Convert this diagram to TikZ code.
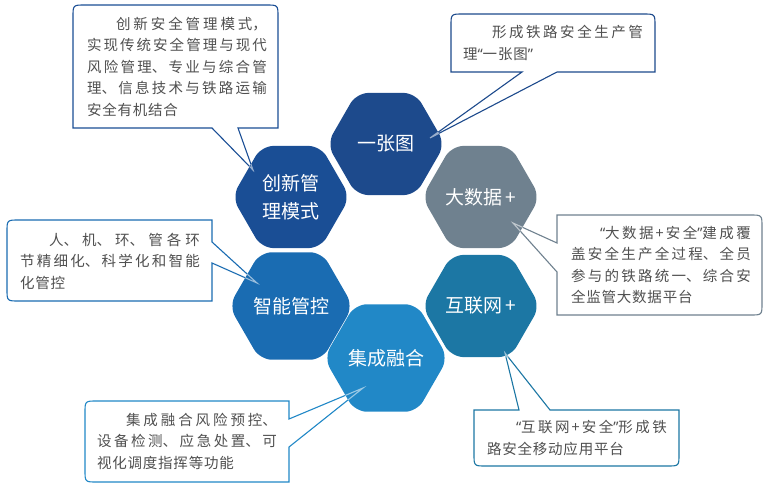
\documentclass[tikz,border=0pt]{standalone}
\usepackage{fontspec}
\usetikzlibrary{shapes.geometric}
\newfontfamily\cjk{Noto Sans CJK SC}
\newfontfamily\latinf{Noto Sans}
\XeTeXlinebreaklocale "zh"
\XeTeXlinebreakskip=0.8pt plus 3pt
\newcommand\oquote{{\latinf “}}
\newcommand\cquote{{\latinf ”}}
\definecolor{cA}{HTML}{1D4A8C}
\definecolor{cB}{HTML}{1A4E95}
\definecolor{cC}{HTML}{6F818F}
\definecolor{cD}{HTML}{1C77A4}
\definecolor{cE}{HTML}{1A6CB2}
\definecolor{cF}{HTML}{2188C7}
\definecolor{txtgray}{HTML}{505050}
\tikzset{
  hexa/.style={regular polygon, regular polygon sides=6, minimum size=118pt,
    inner sep=0pt, rounded corners=12pt, text=white, align=center,
    font=\cjk\fontsize{19}{28}\selectfont},
  txt/.style={text width=180pt, align=justify, inner sep=0pt, text=txtgray,
    font=\cjk\fontsize{14.5}{21.5}\selectfont},
  bubble/.style={line width=1.1pt, line join=miter},
  glint/.style={line width=1.1pt, white, opacity=0.55},
}
\newcommand\bubA{(73,128) -- (73,17) .. controls (73,5) .. (85,5) -- (266,5) .. controls (278,5) .. (278,17) -- (278,128) -- (238,128) -- (tA) -- (212,128) -- cycle}
\newcommand\bubB{(451,72) -- (451,26) .. controls (451,14) .. (463,14) -- (643,14) .. controls (655,14) .. (655,26) -- (655,72) -- (557,72) -- (tB) -- (522,72) -- cycle}
\newcommand\bubC{(557,215) -- (750,215) .. controls (762,215) .. (762,227) -- (762,303) .. controls (762,315) .. (750,315) -- (557,315) -- (557,272) -- (tC) -- (557,243) -- cycle}
\newcommand\bubD{(474,410) -- (519,410) -- (tD) -- (550,410) -- (679,410) -- (679,454) .. controls (679,466) .. (667,466) -- (486,466) .. controls (474,466) .. (474,454) -- cycle}
\newcommand\bubE{(212,220) -- (212,242) -- (tE) -- (212,263) -- (212,301) -- (19,301) .. controls (7,301) .. (7,289) -- (7,232) .. controls (7,220) .. (19,220) -- cycle}
\newcommand\bubF{(289,401) -- (289,419) -- (tF) -- (289,447) -- (289,482) -- (97,482) .. controls (85,482) .. (85,470) -- (85,413) .. controls (85,401) .. (97,401) -- cycle}
\newcommand\hexclip[1]{\clip (#1.corner 1) -- (#1.corner 2) -- (#1.corner 3) -- (#1.corner 4) -- (#1.corner 5) -- (#1.corner 6) -- cycle;}
\begin{document}
\begin{tikzpicture}[x=1pt,y=-1pt]
\useasboundingbox (0,0) rectangle (779,490);
% wedge tips
\coordinate (tA) at (253,170);
\coordinate (tB) at (430,138);
\coordinate (tC) at (513,223);
\coordinate (tD) at (505,353);
\coordinate (tE) at (257,283);
\coordinate (tF) at (363,388);
% bubble fills
\fill[white] \bubA; \fill[white] \bubB; \fill[white] \bubC;
\fill[white] \bubD; \fill[white] \bubE; \fill[white] \bubF;
% hexagons
\node[hexa, fill=cA] (h1) at (386,144) {一张图};
\node[hexa, fill=cC] (h2) at (481,197) {大数据\hspace{3pt}+};
\node[hexa, fill=cD] (h3) at (481,306) {互联网\hspace{3pt}+};
\node[hexa, fill=cF] (h4) at (386,358) {集成融合};
\node[hexa, fill=cE] (h5) at (291,306) {智能管控};
\node[hexa, fill=cB] (h6) at (291,197) {创新管\\理模式};
% bubble outlines
\draw[bubble, draw=cB] \bubA;
\draw[bubble, draw=cA] \bubB;
\draw[bubble, draw=cC] \bubC;
\draw[bubble, draw=cD] \bubD;
\draw[bubble, draw=cE] \bubE;
\draw[bubble, draw=cF] \bubF;
% light pointer lines over hexagons
\begin{scope}\hexclip{h6}\draw[glint] (238,128) -- (tA) -- (212,128);\end{scope}
\begin{scope}\hexclip{h1}\draw[glint] (557,72) -- (tB) -- (522,72);\end{scope}
\begin{scope}\hexclip{h2}\draw[glint] (557,272) -- (tC) -- (557,243);\end{scope}
\begin{scope}\hexclip{h3}\draw[glint] (519,410) -- (tD) -- (550,410);\end{scope}
\begin{scope}\hexclip{h5}\draw[glint] (212,242) -- (tE) -- (212,263);\end{scope}
\begin{scope}\hexclip{h4}\draw[glint] (289,419) -- (tF) -- (289,447);\end{scope}
% texts
\node[txt] (x1) at (177,66.5) {\hspace*{29pt}创新安全管理模式，\linebreak 实现传统安全管理与现代\linebreak 风险管理、专业与综合管\linebreak 理、信息技术与铁路运输\linebreak 安全有机结合};
\node[txt] (x2) at (553,43) {\hspace*{29pt}形成铁路安全生产管\linebreak 理\oquote 一张图\cquote};
\node[txt] (x3) at (661,265) {\hspace*{29pt}\oquote 大数据\hspace{2pt}+\hspace{2pt}安全\cquote 建成覆\linebreak 盖安全生产全过程、全员\linebreak 参与的铁路统一、综合安\linebreak 全监管大数据平台};
\node[txt] (x4) at (577,438) {\hspace*{29pt}\oquote 互联网\hspace{2pt}+\hspace{2pt}安全\cquote 形成铁\linebreak 路安全移动应用平台};
\node[txt] (x5) at (110,261) {\hspace*{29pt}人、机、环、管各环\linebreak 节精细化、科学化和智能\linebreak 化管控};
\node[txt] (x6) at (187,441) {\hspace*{29pt}集成融合风险预控、\linebreak 设备检测、应急处置、可\linebreak 视化调度指挥等功能};
\end{tikzpicture}
\end{document}
